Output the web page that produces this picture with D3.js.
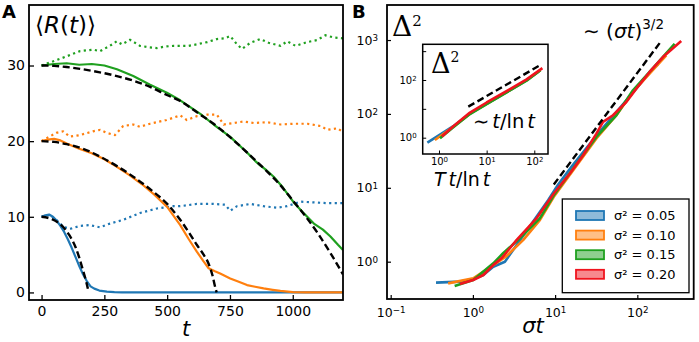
<!DOCTYPE html>
<html>
<head>
<meta charset="utf-8">
<script src="https://cdn.jsdelivr.net/npm/d3@7"></script>
<style>
  body { margin: 0; background: #fff; }
  svg { display: block; font-family: "DejaVu Sans", sans-serif; }
</style>
</head>
<body>
<svg id="chart" width="699" height="342"></svg>
<script>
// ---- panel A data: [t, <R(t)>] ----
const blueSolid = [[0,10],[15,10.2],[30,10.3],[45,10.0],[60,9.5],[75,8.8],[90,8.0],[105,7.0],[120,5.9],[135,4.7],[150,3.5],[165,2.4],[180,1.5],[195,0.8],[210,0.5],[230,0.25],[260,0.1],[290,0.03],[320,0],[1200,0]];
const orangeSolid = [[0,20],[25,20.2],[50,20.3],[75,20.1],[100,19.7],[150,19.0],[200,18.4],[250,17.6],[300,16.6],[350,15.5],[400,14.3],[450,12.9],[500,11.3],[552,8.9],[585,7.1],[618,5.4],[645,4.1],[665,3.2],[690,2.8],[711,2.5],[751,1.85],[785,1.4],[818,0.97],[850,0.75],[884,0.53],[920,0.35],[951,0.2],[1000,0.05],[1050,0],[1200,0]];
const greenSolid = [[0,30],[50,30.2],[100,30.3],[150,30.1],[200,30.2],[250,30.0],[300,29.5],[365,28.6],[430,27.5],[499,26.4],[552,25.4],[632,23.6],[685,22.2],[750,20.6],[818,18.5],[850,17.4],[870,16.8],[890,16.3],[924,15.3],[960,13.9],[1004,11.9],[1040,10.6],[1084,9.1],[1120,8.3],[1150,7.4],[1180,6.3],[1200,5.6]];

const blueDash = [[0,10],[40,9.7],[75,9.0],[110,7.6],[135,6.0],[150,4.6],[165,2.9],[178,1.4],[187,0.1]];
const orangeDash = [[0,20],[50,19.9],[100,19.6],[165,19.0],[230,18.0],[300,16.7],[365,15.3],[430,13.7],[500,11.7],[552,9.6],[585,8.0],[618,6.3],[645,5.0],[665,3.8],[680,2.3],[692,0.6],[697,0]];
const greenDash = [[0,30],[50,29.95],[100,29.8],[165,29.5],[232,29.1],[300,28.6],[365,28.0],[430,27.2],[499,26.1],[552,25.3],[632,23.5],[685,22.3],[765,20.1],[818,18.5],[891,16.2],[950,14.2],[1004,12.0],[1050,10.1],[1100,7.8],[1150,5.2],[1200,2.4]];

const blueDot = [[0,10],[33,10.25],[59,9.6],[86,8.7],[113,8.4],[153,8.8],[193,8.9],[233,8.6],[272,9.1],[325,9.6],[392,10.5],[459,11.1],[525,11.4],[552,11.4],[618,11.7],[685,11.7],[731,11.6],[751,10.8],[778,11.4],[831,11.7],[884,11.4],[937,11.2],[977,11.4],[1031,12.0],[1084,11.9],[1138,11.8],[1200,11.8]];
const orangeDot = [[0,20],[32,20.6],[59,21.1],[86,21.3],[112,20.6],[153,20.8],[205,21.3],[233,21.5],[259,21.1],[292,20.8],[325,22.0],[365,22.2],[392,21.9],[432,22.3],[498,22.8],[552,23.4],[578,22.8],[618,23.3],[658,23.5],[698,23.5],[725,22.2],[764,22.4],[804,22.6],[844,22.4],[898,22.5],[951,22.2],[1004,22.3],[1058,22.3],[1111,22.0],[1138,21.5],[1178,21.7],[1200,21.2]];
const greenDot = [[0,30],[50,30.6],[99,31.2],[153,31.9],[205,32.1],[233,31.9],[272,32.6],[299,33.2],[320,32.8],[352,33.4],[392,32.6],[430,32.4],[459,32.3],[490,32.5],[525,32.6],[552,32.6],[585,32.6],[618,32.8],[660,33.1],[698,33.5],[730,33.6],[751,33.9],[778,32.8],[798,32.2],[831,33.0],[871,33.5],[904,33.0],[951,32.6],[978,33.2],[1011,32.6],[1058,33.1],[1096,33.35],[1130,34.0],[1164,33.7],[1200,33.6]];

const tTicks = [0, 250, 500, 750, 1000];
const rTicks = [0, 10, 20, 30];

// ---- panel B data: [sigma t, Delta^2] ----
const sigmaLabels = ["σ² = 0.05", "σ² = 0.10", "σ² = 0.15", "σ² = 0.20"];
const colors = ["#1f77b4", "#ff7f0e", "#1fa01f", "#f0141e"];
const msdBlue = [[0.356,0.52],[0.695,0.537],[1.01,0.577],[1.34,0.66],[1.77,0.855],[2.45,1.0],[4.29,2.42],[8.22,6.81],[10.9,11.1],[15.8,19.2],[33.3,54.2],[73.5,153],[162,432],[178,468]];
const msdOrange = [[0.50,0.509],[1.01,0.596],[1.77,0.90],[2.56,1.19],[4.08,1.96],[6.52,3.66],[9.64,7.55],[16.6,17.3],[31.8,46.5],[55.6,95.9],[88.5,198],[141,351],[225,621]];
const msdGreen = [[0.60,0.469],[1.01,0.565],[1.77,0.95],[2.33,1.30],[3.72,2.07],[6.52,3.85],[9.64,7.94],[16.6,18.2],[31.8,48.9],[55.6,95.9],[88.5,209],[141,370],[284,891]];
const msdRed = [[0.695,0.499],[1.01,0.565],[1.34,0.66],[1.77,0.90],[2.23,1.11],[3.39,1.96],[5.93,3.85],[9.64,8.38],[15.1,15.6],[21.9,27.6],[31.8,54.2],[38.3,78],[50.6,95.9],[73.5,145],[97.3,220],[141,370],[205,589],[342,968]];
const msdGuide = [[9.64,11.1],[195,968]];

// inset: [T t / ln t, Delta^2]
const insBlue = [[0.57,0.67],[2.0,2.5],[4.47,6.9],[10,14.8],[30.9,44.7],[69,98],[126,200]];
const insOrange = [[0.82,0.83],[2.0,2.4],[4.47,6.8],[10,14.8],[30.9,44.7],[69,98],[132,214]];
const insGreen = [[1.05,0.95],[2.0,2.3],[4.47,6.6],[10,14.5],[30.9,43.6],[69,95],[135,219]];
const insRed = [[1.15,1.1],[2.0,2.5],[4.47,7.4],[10,16.6],[30.9,47.9],[69,105],[148,257]];
const insGuide = [[4.12,11.9],[135,331]];

const bXTicks = [0.1, 1, 10, 100];
const bYTicks = [1, 10, 100, 1000];
const insXTicks = [1, 10, 100];
const insYTicks = [1, 10, 100, 1000];
const insYLabels = [1, 100];

const svg = d3.select("#chart");
svg.append("rect").attr("width", 699).attr("height", 342).attr("fill", "#fff");

const defs = svg.append("defs");
function clip(id, x, y, w, h) {
  defs.append("clipPath").attr("id", id).append("rect")
    .attr("x", x).attr("y", y).attr("width", w).attr("height", h);
  return "url(#" + id + ")";
}

function powLabel(sel, v, fs) {
  const e = Math.round(Math.log10(v));
  sel.text("10");
  sel.append("tspan").attr("dy", "-0.42em").attr("font-size", fs * 0.7).text(e < 0 ? "−" + (-e) : e);
}

// ================= panel A =================
const xA = d3.scaleLinear([-50, 1200], [29, 343]);
const yA = d3.scaleLinear([-1, 38], [300, 5]);
const lineA = d3.line().x(d => xA(d[0])).y(d => yA(d[1]));
const smoothA = d3.line().x(d => xA(d[0])).y(d => yA(d[1])).curve(d3.curveMonotoneX);
const gA = svg.append("g").attr("clip-path", clip("clipA", 29, 5, 314, 295));

[blueDot, orangeDot, greenDot].forEach((s, i) => {
  gA.append("path").attr("d", lineA(s)).attr("fill", "none")
    .attr("stroke", colors[i]).attr("stroke-width", 2.2).attr("stroke-dasharray", "2.2,3.4");
});
[blueSolid, orangeSolid, greenSolid].forEach((s, i) => {
  gA.append("path").attr("d", lineA(s)).attr("fill", "none")
    .attr("stroke", colors[i]).attr("stroke-width", 2.2).attr("stroke-linejoin", "round");
});
[blueDash, orangeDash, greenDash].forEach(s => {
  gA.append("path").attr("d", smoothA(s)).attr("fill", "none")
    .attr("stroke", "#000").attr("stroke-width", 2.4).attr("stroke-dasharray", "7,3.6");
});

const axA_x = svg.append("g").attr("transform", "translate(0,300)")
  .call(d3.axisBottom(xA).tickValues(tTicks).tickFormat(d3.format("d"))
    .tickSizeInner(-5).tickSizeOuter(0).tickPadding(6));
const axA_y = svg.append("g").attr("transform", "translate(29,0)")
  .call(d3.axisLeft(yA).tickValues(rTicks).tickFormat(d3.format("d"))
    .tickSizeInner(-5).tickSizeOuter(0).tickPadding(4));
[axA_x, axA_y].forEach(a => {
  a.select(".domain").remove();
  a.selectAll("line").attr("stroke-width", 1.3);
  a.selectAll("text").attr("font-size", 14).attr("font-family", "DejaVu Sans").attr("fill", "#000");
});
svg.append("rect").attr("x", 29).attr("y", 5).attr("width", 314).attr("height", 295)
  .attr("fill", "none").attr("stroke", "#000").attr("stroke-width", 1.8);

svg.append("text").attr("x", 2).attr("y", 18).attr("font-size", 18).attr("font-weight", "bold").text("A");
const rl = svg.append("text").attr("x", 35).attr("y", 33).attr("font-size", 23);
rl.append("tspan").text("⟨");
rl.append("tspan").attr("font-style", "italic").text("R");
rl.append("tspan").text("(");
rl.append("tspan").attr("font-style", "italic").text("t");
rl.append("tspan").text(")⟩");
svg.append("text").attr("x", 186).attr("y", 336).attr("font-size", 21)
  .attr("font-style", "italic").attr("text-anchor", "middle").text("t");

// ================= panel B =================
const xB = d3.scaleLog([0.0902, 485], [387, 693.7]);
const yB = d3.scaleLog([0.3126, 2980], [299, 5]);
const lineB = d3.line().x(d => xB(d[0])).y(d => yB(d[1]));
const gB = svg.append("g").attr("clip-path", clip("clipB", 387, 5, 306.7, 294));

[msdBlue, msdOrange, msdGreen, msdRed].forEach((s, i) => {
  gB.append("path").attr("d", lineB(s)).attr("fill", "none")
    .attr("stroke", colors[i]).attr("stroke-width", 2.6).attr("stroke-linejoin", "round");
});
gB.append("path").attr("d", lineB(msdGuide)).attr("fill", "none")
  .attr("stroke", "#000").attr("stroke-width", 2.4).attr("stroke-dasharray", "7,3.6");

const axB_x = svg.append("g").attr("transform", "translate(0,299)")
  .call(d3.axisBottom(xB).tickValues(bXTicks).tickSizeInner(-4).tickSizeOuter(0).tickPadding(9));
const axB_y = svg.append("g").attr("transform", "translate(387,0)")
  .call(d3.axisLeft(yB).tickValues(bYTicks).tickSizeInner(-4).tickSizeOuter(0).tickPadding(9));
[axB_x, axB_y].forEach(a => {
  a.select(".domain").remove();
  a.selectAll("line").attr("stroke-width", 1.2);
  a.selectAll("text").attr("font-size", 12.5).attr("font-family", "DejaVu Sans").attr("fill", "#000")
    .each(function(d) { powLabel(d3.select(this), d, 12.5); });
});
svg.append("rect").attr("x", 387).attr("y", 5).attr("width", 306.7).attr("height", 294)
  .attr("fill", "none").attr("stroke", "#000").attr("stroke-width", 1.8);

svg.append("text").attr("x", 352).attr("y", 18).attr("font-size", 18).attr("font-weight", "bold").text("B");
const dl = svg.append("text").attr("x", 392).attr("y", 36).attr("font-family", "DejaVu Serif").attr("font-size", 28);
dl.append("tspan").text("Δ");
dl.append("tspan").attr("dy", -10).attr("font-size", 15).text("2");

const gl = svg.append("text").attr("x", 583).attr("y", 38).attr("font-size", 20);
gl.append("tspan").text("∼ (");
gl.append("tspan").attr("font-style", "italic").text("σt");
gl.append("tspan").text(")");
gl.append("tspan").attr("dy", -9).attr("font-size", 13.5).text("3/2");

svg.append("text").attr("x", 533).attr("y", 333).attr("font-size", 21)
  .attr("font-style", "italic").attr("text-anchor", "middle").text("σt");

// ---- inset ----
const xI = d3.scaleLog([0.455, 194], [422.7, 548]);
const yI = d3.scaleLog([0.272, 1727], [154, 44.3]);
const lineI = d3.line().x(d => xI(d[0])).y(d => yI(d[1]));
svg.append("rect").attr("x", 422.7).attr("y", 44.3).attr("width", 125.3).attr("height", 109.7).attr("fill", "#fff");
const gI = svg.append("g").attr("clip-path", clip("clipI", 422.7, 44.3, 125.3, 109.7));
[insBlue, insOrange, insGreen, insRed].forEach((s, i) => {
  gI.append("path").attr("d", lineI(s)).attr("fill", "none")
    .attr("stroke", colors[i]).attr("stroke-width", 2.6).attr("stroke-linejoin", "round");
});
gI.append("path").attr("d", lineI(insGuide)).attr("fill", "none")
  .attr("stroke", "#000").attr("stroke-width", 2.4).attr("stroke-dasharray", "7,3.6");

const axI_x = svg.append("g").attr("transform", "translate(0,154)")
  .call(d3.axisBottom(xI).tickValues(insXTicks).tickSizeInner(-3.5).tickSizeOuter(0).tickPadding(4));
const axI_y = svg.append("g").attr("transform", "translate(422.7,0)")
  .call(d3.axisLeft(yI).tickValues(insYTicks).tickSizeInner(-3.5).tickSizeOuter(0).tickPadding(6));
[axI_x, axI_y].forEach(a => {
  a.select(".domain").remove();
  a.selectAll("line").attr("stroke-width", 1);
  a.selectAll("text").attr("font-size", 10).attr("font-family", "DejaVu Sans").attr("fill", "#000")
    .each(function(d) {
      if (a === axI_y && !insYLabels.includes(d)) { d3.select(this).remove(); return; }
      powLabel(d3.select(this), d, 10);
    });
});
svg.append("rect").attr("x", 422.7).attr("y", 44.3).attr("width", 125.3).attr("height", 109.7)
  .attr("fill", "none").attr("stroke", "#000").attr("stroke-width", 1.5);

const il = svg.append("text").attr("x", 431).attr("y", 73).attr("font-family", "DejaVu Serif").attr("font-size", 27);
il.append("tspan").text("Δ");
il.append("tspan").attr("dy", -11).attr("font-size", 14).text("2");

const tl = svg.append("text").attr("x", 473).attr("y", 128).attr("font-size", 19.5);
tl.append("tspan").text("∼");
tl.append("tspan").attr("dx", 3).attr("font-style", "italic").text("t");
tl.append("tspan").text("/ln");
tl.append("tspan").attr("dx", 3).attr("font-style", "italic").text("t");

const il2 = svg.append("text").attr("x", 434).attr("y", 186).attr("font-size", 19);
il2.append("tspan").attr("font-style", "italic").text("T");
il2.append("tspan").attr("dx", 3).attr("font-style", "italic").text("t");
il2.append("tspan").text("/ln");
il2.append("tspan").attr("dx", 3).attr("font-style", "italic").text("t");

// ---- legend ----
const lg = svg.append("g");
lg.append("rect").attr("x", 562.3).attr("y", 199).attr("width", 126.7).attr("height", 93.7)
  .attr("fill", "#fff").attr("stroke", "#000").attr("stroke-width", 1.3);
const rowY = d3.scalePoint().domain(sigmaLabels).range([215.5, 274.3]);
sigmaLabels.forEach((lab, i) => {
  lg.append("rect").attr("x", 576).attr("y", rowY(lab) - 4.5).attr("width", 28).attr("height", 9)
    .attr("fill", colors[i]).attr("fill-opacity", 0.5).attr("stroke", colors[i]).attr("stroke-width", 1.8);
  lg.append("text").attr("x", 614).attr("y", rowY(lab)).attr("dy", "0.35em").attr("font-size", 13).text(lab);
});
</script>
</body>
</html>
